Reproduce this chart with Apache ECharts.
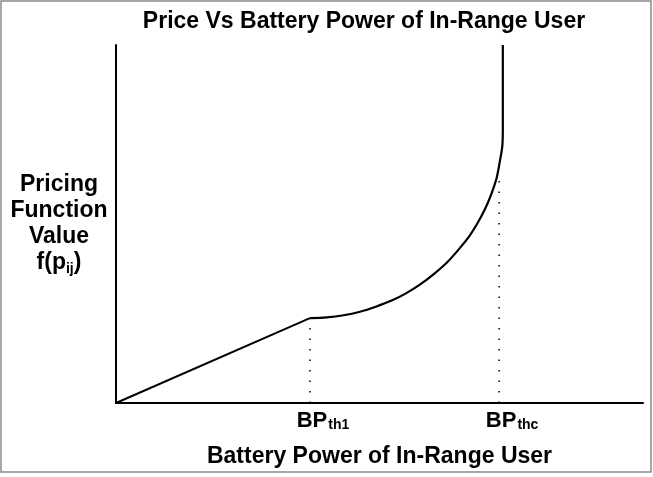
<!DOCTYPE html>
<html>
<head>
<meta charset="utf-8">
<script src="https://cdn.jsdelivr.net/npm/echarts@6/dist/echarts.min.js"></script>
<style>
  html, body { margin: 0; padding: 0; background: #fff; }
  #chart { width: 653px; height: 477px; }
</style>
</head>
<body>
<div id="chart"></div>
<script>
// linear part, then the rising curve up to the vertical wall
const linePart = [[0, 0], [36.8, 23.7]];
const curvePart = [
  [36.8, 23.7], [40.0, 23.9], [43.2, 24.5], [46.3, 25.5], [49.3, 26.9], [52.3, 28.6],
  [55.1, 30.7], [57.8, 33.2], [60.3, 36.0], [62.7, 39.1], [64.8, 42.5], [66.8, 46.1],
  [68.5, 50.0], [70.0, 54.1], [71.2, 58.3], [72.2, 62.7], [72.8, 67.2], [73.3, 71.7],
  [73.4, 76.3], [73.4, 100]
];
// dotted guides from the axis to the curve
const guideTh1 = [[36.8, 0], [36.8, 23.7]];
const guideThc = [[72.7, 0], [72.7, 63]];
const tickValues = [36.8, 72.7];
const tickSubs = ['th1', 'thc'];

const chart = echarts.init(document.getElementById('chart'));

const black = '#000';
const font = 'Liberation Sans, Arial, sans-serif';

chart.setOption({
  animation: false,
  title: {
    text: 'Price Vs Battery Power of In-Range User',
    left: 359, top: 5, textAlign: 'center',
    textStyle: { fontFamily: font, fontSize: 23, fontWeight: 'bold', color: black }
  },
  graphic: [{
    type: 'rect',
    shape: { x: 1, y: 1, width: 650, height: 471 },
    style: { fill: 'none', stroke: '#8a8a8a', lineWidth: 1.5 },
    silent: true
  }],
  grid: { left: 116, right: 10, top: 45, bottom: 74 },
  xAxis: {
    type: 'value', min: 0, max: 100,
    splitLine: { show: false },
    axisLine: { lineStyle: { color: black, width: 2 } },
    axisTick: { show: false },
    axisLabel: {
      customValues: tickValues,
      margin: 7,
      formatter: function (v) {
        const i = tickValues.indexOf(v);
        return '{b|BP}{s|' + tickSubs[i] + '}';
      },
      rich: {
        b: { fontFamily: font, fontSize: 22, fontWeight: 'bold', color: black, verticalAlign: 'bottom', padding: [0, 0, 0, 26] },
        s: { fontFamily: font, fontSize: 14, fontWeight: 'bold', color: black, verticalAlign: 'bottom', padding: [0, 0, 0, 1] }
      }
    },
    name: 'Battery Power of In-Range User',
    nameLocation: 'middle',
    nameGap: 42,
    nameTextStyle: { fontFamily: font, fontSize: 23, fontWeight: 'bold', color: black }
  },
  yAxis: {
    type: 'value', min: 0, max: 100,
    splitLine: { show: false },
    axisLine: { show: true, lineStyle: { color: black, width: 2 } },
    axisTick: { show: false },
    axisLabel: { show: false },
    name: '{t|Pricing}\n{t|Function}\n{t|Value}\n{t|f(p}{s|ij}{t|)}',
    nameLocation: 'middle',
    nameRotate: 0,
    nameGap: 57,
    nameTextStyle: {
      align: 'center',
      rich: {
        t: { fontFamily: font, fontSize: 23, fontWeight: 'bold', color: black, lineHeight: 26 },
        s: { fontFamily: font, fontSize: 14, fontWeight: 'bold', color: black, lineHeight: 26, verticalAlign: 'bottom' }
      }
    }
  },
  series: [
    {
      type: 'line', data: linePart, symbol: 'none',
      lineStyle: { color: black, width: 2 }
    },
    {
      type: 'line', data: curvePart, symbol: 'none', smooth: 0.3,
      lineStyle: { color: black, width: 2.2 }
    },
    {
      type: 'line', data: guideTh1, symbol: 'none',
      lineStyle: { color: black, width: 1.5, type: [1.5, 9] }
    },
    {
      type: 'line', data: guideThc, symbol: 'none',
      lineStyle: { color: black, width: 1.5, type: [1.5, 9] }
    }
  ]
});
</script>
</body>
</html>
